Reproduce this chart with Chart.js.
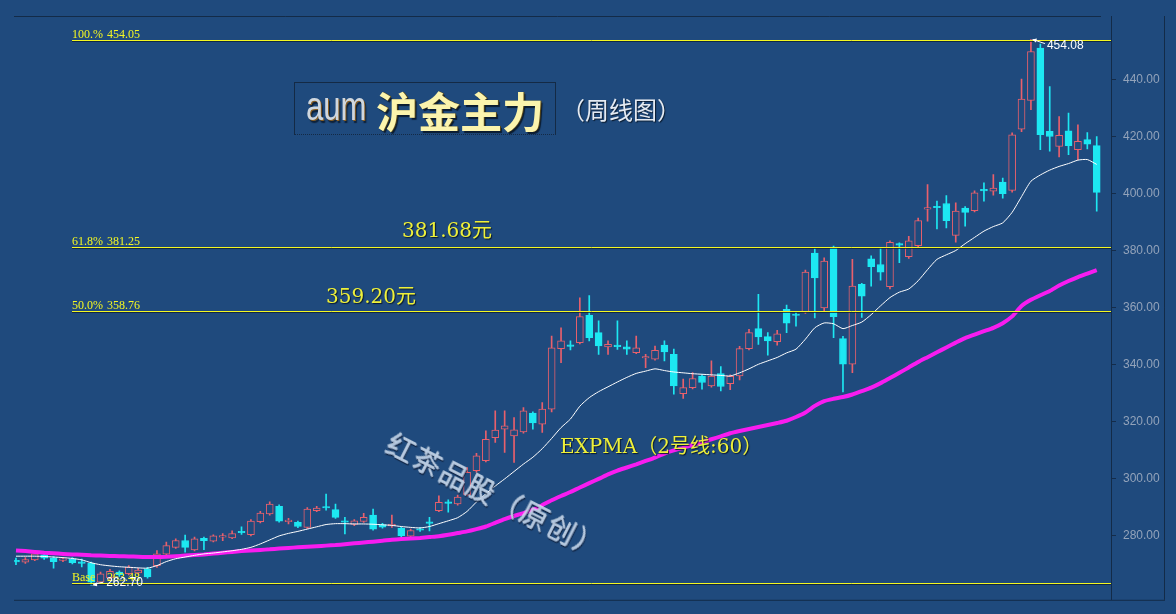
<!DOCTYPE html>
<html lang="zh-CN">
<head>
  <meta charset="UTF-8">
  <title>aum 沪金主力（周线图）</title>
  <script src="https://cdn.jsdelivr.net/npm/chart.js"></script>
  <style>
    body {
      margin: 0;
      background-color: #1f4a7d;
      overflow: hidden;
    }
    #wrap {
      position: relative;
      width: 1176px;
      height: 614px;
    }
    .title-box {
      position: absolute;
      left: 294px;
      top: 82px;
      width: 262px;
      height: 53px;
      border: 1px solid #142a45;
      border-bottom: 1px dotted #142a45;
      box-sizing: border-box;
      white-space: nowrap;
    }
    .aum {
      position: absolute;
      left: 11px;
      top: 8px;
      font-family: "Liberation Sans", Arial, sans-serif;
      font-size: 31px;
      line-height: 31px;
      color: #cfd7df;
      text-shadow: 1px 1px 0 #8a5f22, 2px 2px 1px #0d2038;
      transform: scaleY(1.3);
      transform-origin: 0 50%;
    }
    .cn-name {
      position: absolute;
      left: 81px;
      top: 6px;
      font-family: "Noto Sans CJK SC", sans-serif;
      font-weight: bold;
      font-size: 42px;
      line-height: 42px;
      color: #fbf4ad;
      text-shadow: 1px 0 0 #5d4a16, 2px 2px 1px #0b1c30;
    }
    .subtitle {
      position: absolute;
      left: 561px;
      top: 95px;
      font-family: "Noto Sans CJK SC", sans-serif;
      font-size: 24px;
      line-height: 28px;
      color: #e4eaf2;
      text-shadow: 1px 1px 1px #0b1c30;
    }
    .note {
      position: absolute;
      font-family: "DejaVu Serif", "Noto Sans CJK SC", serif;
      font-size: 20px;
      line-height: 22px;
      color: #eef03a;
      text-shadow: 1px 1px 1px #0a1a2e;
      white-space: nowrap;
    }
    .watermark {
      position: absolute;
      left: 396px;
      top: 428px;
      font-family: "Noto Sans CJK SC", sans-serif;
      font-size: 28px;
      line-height: 30px;
      letter-spacing: 2px;
      color: rgba(188, 207, 230, 0.85);
      text-shadow: -1px -1px 0 rgba(235, 243, 252, 0.7), 1px 1px 1px rgba(8, 20, 45, 0.8);
      transform: rotate(27deg);
      transform-origin: 0 0;
      white-space: nowrap;
    }
  </style>
</head>
<body>
  <div id="wrap">
    <canvas id="kline-chart" width="1176" height="614"></canvas>
    <div class="title-box">
      <span class="aum">aum</span>
      <span class="cn-name">沪金主力</span>
    </div>
    <div class="subtitle">（周线图）</div>
    <div class="note" style="left:402px; top:219px;">381.68元</div>
    <div class="note" style="left:326px; top:285px;">359.20元</div>
    <div class="note" style="left:560px; top:435px;">EXPMA（2号线:60）</div>
    <div class="watermark">红茶品股（原创）</div>
  </div>
  <script>
    // weekly candles
    const opens = [
      271.1, 270.8, 271.6, 273.4, 272.3, 271.4, 272.0, 270.8, 270.4, 263.8,
      265.3, 267.3, 266.8, 267.0, 268.5, 269.6, 273.6, 276.0, 278.4, 275.1,
      279.2, 278.2, 279.6, 279.3, 281.4, 280.4, 285.0, 287.7, 290.4, 285.0,
      284.8, 283.0, 288.9, 290.1, 289.2, 285.1, 284.0, 285.1, 287.3, 284.0,
      283.5, 282.7, 279.9, 282.3, 284.7, 288.9, 291.7, 291.2, 294.4, 302.9,
      306.4, 314.5, 317.4, 315.1, 316.5, 323.1, 319.2, 324.5, 345.7, 346.8,
      347.8, 357.4, 351.3, 346.3, 346.7, 346.3, 344.3, 342.4, 342.0, 346.9,
      343.7, 329.9, 332.0, 336.1, 332.6, 336.9, 333.4, 336.1, 345.7, 352.7,
      349.9, 348.1, 359.5, 357.6, 358.5, 379.2, 360.0, 381.3, 349.2, 340.2,
      368.2, 377.2, 375.2, 367.4, 382.3, 377.9, 381.8, 394.6, 395.4, 396.6,
      385.4, 395.0, 394.1, 401.3, 400.9, 404.1, 401.2, 422.7, 432.7, 451.1,
      421.9, 416.6, 422.1, 415.5, 419.0, 416.9
    ];
    const highs = [
      272.2, 272.4, 274.4, 273.9, 272.8, 272.3, 272.4, 271.9, 270.8, 267.3,
      268.3, 267.8, 269.6, 268.6, 269.0, 274.9, 277.8, 279.0, 280.3, 279.6,
      279.6, 280.4, 280.8, 281.8, 283.2, 285.7, 288.6, 292.0, 290.9, 286.2,
      285.2, 289.9, 290.4, 294.7, 291.2, 286.5, 285.7, 287.9, 289.4, 284.4,
      287.3, 283.1, 282.4, 282.9, 286.5, 294.1, 292.7, 294.3, 304.0, 309.0,
      316.9, 323.9, 323.9, 321.5, 325.0, 323.5, 326.8, 350.1, 353.0, 348.4,
      363.5, 364.3, 355.4, 348.4, 355.4, 348.4, 350.1, 343.7, 346.6, 348.4,
      345.5, 335.0, 337.3, 336.5, 341.4, 339.4, 336.5, 346.5, 352.5, 364.7,
      351.3, 352.1, 361.0, 358.3, 373.2, 380.7, 377.5, 381.7, 350.0, 377.0,
      368.6, 378.2, 381.0, 383.5, 382.8, 385.1, 391.5, 403.2, 397.4, 399.4,
      396.8, 395.5, 401.0, 403.8, 406.7, 405.5, 421.4, 440.2, 454.08, 452.5,
      437.6, 427.1, 428.3, 424.2, 421.5, 420.1
    ];
    const lows = [
      269.9, 270.4, 271.3, 271.8, 268.7, 271.0, 270.2, 269.1, 262.7, 263.3,
      264.8, 265.8, 266.3, 266.6, 265.2, 269.0, 273.2, 275.6, 274.3, 274.7,
      275.2, 277.9, 278.3, 279.0, 280.5, 280.0, 284.6, 287.3, 284.8, 284.2,
      282.9, 282.6, 288.5, 289.0, 286.1, 280.7, 283.6, 284.7, 282.0, 282.7,
      283.0, 279.7, 279.5, 281.6, 281.8, 288.5, 288.3, 290.8, 294.0, 302.4,
      306.0, 312.8, 309.3, 305.8, 316.0, 317.4, 316.3, 323.5, 340.8, 345.2,
      347.3, 348.4, 343.7, 343.7, 345.4, 343.7, 343.9, 339.0, 341.6, 341.4,
      329.7, 328.2, 331.6, 331.5, 332.2, 330.9, 331.3, 334.7, 345.2, 347.2,
      343.4, 346.9, 351.3, 353.6, 358.0, 356.5, 358.9, 349.5, 330.5, 337.3,
      356.6, 367.6, 369.7, 366.6, 375.8, 377.3, 381.3, 390.4, 387.7, 388.0,
      383.0, 388.6, 393.6, 397.4, 399.5, 398.5, 400.6, 421.8, 429.5, 415.5,
      414.9, 412.9, 413.7, 412.0, 415.7, 393.9
    ];
    const closes = [
      270.9, 271.7, 273.7, 272.2, 271.0, 271.8, 270.6, 270.4, 263.8, 266.7,
      267.6, 266.4, 269.1, 268.0, 265.6, 273.7, 276.6, 278.4, 276.0, 279.0,
      278.3, 280.0, 279.9, 280.8, 281.1, 285.2, 288.0, 291.2, 285.2, 285.3,
      283.3, 289.4, 289.8, 289.8, 286.5, 284.8, 285.3, 286.5, 282.4, 283.1,
      283.8, 280.1, 281.9, 282.0, 284.4, 291.8, 291.4, 293.6, 302.3, 308.1,
      313.9, 317.1, 318.6, 317.2, 323.9, 319.6, 324.5, 346.0, 348.4, 346.5,
      356.9, 349.5, 346.6, 347.2, 346.4, 345.5, 346.0, 342.7, 345.1, 344.5,
      332.6, 332.0, 335.2, 333.8, 336.1, 332.4, 336.0, 345.7, 351.3, 349.8,
      348.4, 350.9, 354.6, 357.3, 372.5, 370.5, 376.4, 356.9, 340.2, 367.6,
      364.1, 374.4, 372.5, 383.0, 382.0, 383.5, 390.6, 394.9, 395.1, 390.6,
      393.9, 393.5, 400.3, 401.0, 402.0, 400.0, 420.7, 433.2, 449.9, 420.7,
      420.1, 420.5, 416.9, 418.4, 417.4, 400.5
    ];
    // white EXPMA (short)
    const expmaShort = [
      272.9, 272.9, 272.9, 272.8, 272.6, 272.4, 272.1, 271.6, 270.6, 269.9,
      269.5, 269.2, 269.0, 268.8, 268.7, 269.6, 271.0, 272.0, 272.6, 273.2,
      273.7, 274.0, 274.4, 274.8, 275.3, 276.0, 277.2, 278.6, 280.0, 280.9,
      281.6, 282.4, 283.2, 284.0, 284.3, 284.3, 284.2, 284.2, 284.1, 283.9,
      283.7, 283.3, 283.0, 282.8, 283.3, 284.3, 285.3, 286.4, 288.6, 291.9,
      294.8, 297.5, 300.0, 302.6, 305.2, 307.6, 310.6, 314.2, 318.0, 321.0,
      325.5, 328.5, 330.6, 332.3, 334.0, 335.6, 337.0, 337.8, 338.6, 338.0,
      337.5, 337.2, 336.9, 336.7, 336.5, 336.3, 336.1, 337.2, 338.6, 340.2,
      341.4, 342.6, 344.2, 345.5, 349.0, 353.0, 354.7, 354.4, 352.7, 353.8,
      355.0, 357.6, 360.7, 363.6, 365.5, 366.6, 369.5, 373.4, 377.0, 378.6,
      380.1, 382.5, 384.7, 386.9, 388.5, 389.8, 393.5, 399.0, 404.4, 406.6,
      408.3, 409.6, 410.6, 411.8, 412.0, 410.3
    ];
    // magenta EXPMA 60
    const expma60 = [
      274.9, 274.7, 274.4, 274.1, 273.9, 273.7, 273.5, 273.4, 273.2, 273.1,
      273.0, 272.9, 272.8, 272.7, 272.6, 272.6, 272.7, 272.9, 273.1, 273.3,
      273.5, 273.8, 274.1, 274.4, 274.7, 274.9, 275.1, 275.3, 275.6, 275.8,
      276.0, 276.2, 276.4, 276.6, 276.8, 277.1, 277.4, 277.7, 278.0, 278.3,
      278.7, 278.9, 279.1, 279.3, 279.6, 279.9, 280.4, 281.0, 281.6, 282.4,
      283.3, 284.6, 285.9, 287.0, 288.0, 289.2, 290.8, 292.5, 294.0, 295.4,
      297.0, 298.5, 300.0, 301.6, 302.9, 304.0, 305.1, 306.3, 307.5, 308.9,
      310.0, 310.9, 311.9, 312.9, 313.9, 314.9, 316.0, 316.8, 317.5, 318.2,
      318.9, 319.6, 320.4, 321.7, 323.3, 325.6, 327.3, 328.1, 328.7, 329.6,
      330.8, 332.0, 333.6, 335.4, 337.2, 339.1, 341.0, 342.7, 344.4, 346.1,
      347.8, 349.4, 350.6, 351.8, 353.0, 354.6, 357.0, 360.6, 362.8, 364.4,
      365.9, 367.8, 369.4, 370.8, 372.0, 373.2
    ];
    // golden section levels
    const fibNames = ['100.%', '61.8%', '50.0%', 'Base'];
    const fibValues = [454.05, 381.25, 358.76, 263.48];
    const yTicks = [280, 300, 320, 340, 360, 380, 400, 420, 440];

    const bgColor = '#1f4a7d';
    const upColor = '#e8606c';
    const downColor = '#1de8f2';

    const weeks = opens.map((_, i) => i);
    const isUp = weeks.map(i => closes[i] > opens[i]);
    const candleColors = weeks.map(i => isUp[i] ? upColor : downColor);
    const bodyFill = weeks.map(i => isUp[i] ? bgColor : downColor);

    // frame lines around the plot
    const framePlugin = {
      id: 'frame',
      afterDraw(chart) {
        const { ctx, chartArea } = chart;
        ctx.save();
        ctx.strokeStyle = '#132b48';
        ctx.lineWidth = 1;
        ctx.beginPath();
        ctx.moveTo(chartArea.left, chartArea.top + 0.5);
        ctx.lineTo(chartArea.right - 10, chartArea.top + 0.5);
        ctx.moveTo(chartArea.left, chartArea.bottom + 0.5);
        ctx.lineTo(chartArea.right + 54, chartArea.bottom + 0.5);
        ctx.moveTo(chartArea.right + 53.5, chartArea.top);
        ctx.lineTo(chartArea.right + 53.5, chartArea.bottom);
        ctx.stroke();
        ctx.restore();
      }
    };

    // yellow level lines with their labels
    const fibPlugin = {
      id: 'fib',
      afterDatasetsDraw(chart) {
        const { ctx, chartArea, scales } = chart;
        const x0 = chartArea.left + 58;
        ctx.save();
        ctx.lineWidth = 1;
        ctx.font = '12px "Liberation Serif", serif';
        ctx.textBaseline = 'alphabetic';
        fibValues.forEach((v, i) => {
          const y = Math.round(scales.y.getPixelForValue(v)) + 0.5;
          // dark shadow under the line
          ctx.strokeStyle = 'rgba(10, 25, 45, 0.7)';
          ctx.beginPath();
          ctx.moveTo(x0, y + 1);
          ctx.lineTo(chartArea.right, y + 1);
          ctx.stroke();
          ctx.strokeStyle = '#f4f722';
          ctx.beginPath();
          ctx.moveTo(x0, y);
          ctx.lineTo(chartArea.right, y);
          ctx.stroke();
          ctx.fillStyle = '#f4f722';
          ctx.fillText(fibNames[i], x0, y - 3);
          ctx.fillText(v.toFixed(2), x0 + 35, y - 3);
        });
        ctx.restore();
      }
    };

    // arrows to the highest high and lowest low
    const extremePlugin = {
      id: 'extremes',
      afterDatasetsDraw(chart) {
        const { ctx, scales } = chart;
        const hi = Math.max(...highs);
        const lo = Math.min(...lows);
        const hx = scales.x.getPixelForValue(highs.indexOf(hi));
        const hy = scales.y.getPixelForValue(hi);
        const lx = scales.x.getPixelForValue(lows.indexOf(lo));
        const ly = scales.y.getPixelForValue(lo);
        ctx.save();
        ctx.strokeStyle = '#ffffff';
        ctx.fillStyle = '#ffffff';
        ctx.lineWidth = 1;
        ctx.font = '12px "Liberation Sans", sans-serif';
        ctx.textBaseline = 'middle';
        // high
        ctx.beginPath();
        ctx.moveTo(hx + 2, hy);
        ctx.lineTo(hx + 14, hy + 4);
        ctx.stroke();
        ctx.beginPath();
        ctx.moveTo(hx + 1, hy);
        ctx.lineTo(hx + 6, hy - 1);
        ctx.lineTo(hx + 5, hy + 3);
        ctx.fill();
        ctx.fillText(hi.toFixed(2), hx + 16, hy + 6);
        // low
        ctx.beginPath();
        ctx.moveTo(lx + 2, ly - 1);
        ctx.lineTo(lx + 12, ly - 3);
        ctx.stroke();
        ctx.beginPath();
        ctx.moveTo(lx + 1, ly);
        ctx.lineTo(lx + 6, ly - 3);
        ctx.lineTo(lx + 6, ly + 1);
        ctx.fill();
        ctx.fillText(lo.toFixed(2), lx + 15, ly - 3);
        ctx.restore();
      }
    };

    new Chart(document.getElementById('kline-chart'), {
      type: 'bar',
      data: {
        datasets: [
          {
            type: 'line',
            label: 'EXPMA',
            data: weeks.map(i => ({ x: i, y: expmaShort[i] })),
            borderColor: '#ffffff',
            borderWidth: 1,
            pointRadius: 0,
            tension: 0.2,
            order: 0
          },
          {
            type: 'line',
            label: 'EXPMA 60',
            data: weeks.map(i => ({ x: i, y: expma60[i] })),
            borderColor: '#f81cf0',
            borderWidth: 4,
            pointRadius: 0,
            tension: 0.2,
            order: 1
          },
          {
            label: 'body',
            data: weeks.map(i => ({ x: i, y: [opens[i], closes[i]] })),
            backgroundColor: bodyFill,
            borderColor: candleColors,
            borderWidth: 1,
            borderSkipped: false,
            barThickness: 7,
            minBarLength: 1.5,
            grouped: false,
            order: 2
          },
          {
            label: 'wick',
            data: weeks.map(i => ({ x: i, y: [lows[i], highs[i]] })),
            backgroundColor: candleColors,
            barThickness: 1,
            grouped: false,
            order: 3
          }
        ]
      },
      options: {
        responsive: false,
        animation: false,
        layout: { padding: { left: 14, right: 0, top: 16, bottom: 13 } },
        plugins: {
          legend: { display: false },
          tooltip: { enabled: false }
        },
        scales: {
          x: {
            type: 'linear',
            display: false,
            offset: false,
            min: -0.21,
            max: 116.52
          },
          y: {
            position: 'right',
            min: 257.6,
            max: 462.35,
            afterFit: (scale) => { scale.width = 65; },
            afterBuildTicks: (scale) => { scale.ticks = yTicks.map(v => ({ value: v })); },
            grid: {
              drawOnChartArea: false,
              tickLength: 5,
              color: '#142c4a'
            },
            border: { color: '#132b48', width: 1 },
            ticks: {
              padding: 7,
              color: '#93a3ba',
              font: { family: 'Liberation Sans', size: 12 },
              callback: (v) => Number(v).toFixed(2)
            }
          }
        }
      },
      plugins: [framePlugin, fibPlugin, extremePlugin]
    });
  </script>
</body>
</html>
